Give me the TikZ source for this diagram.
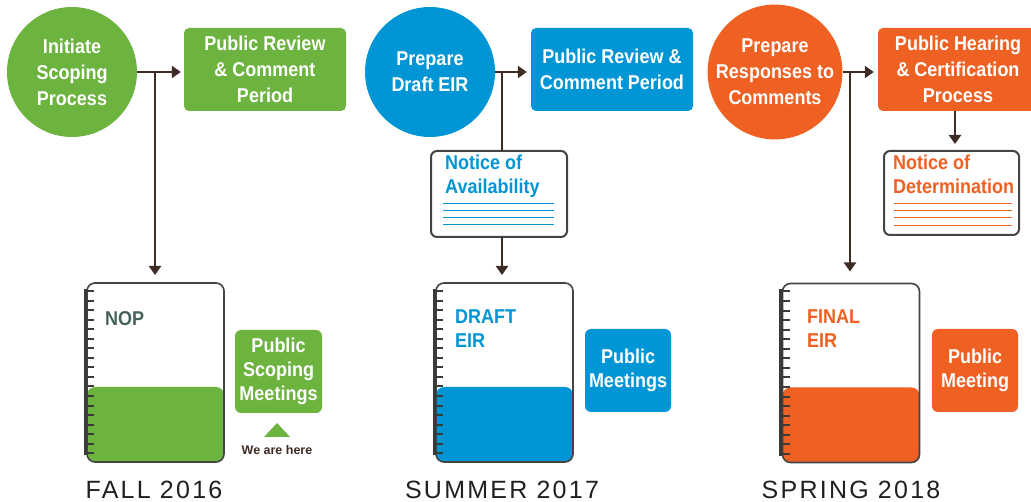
\documentclass[tikz,border=0pt]{standalone}
\usepackage{fontspec}
\setmainfont{Liberation Sans}
\newfontfamily\bn[FakeStretch=0.9]{Liberation Sans}
\newfontfamily\lbl[LetterSpace=9]{Liberation Sans}
\usetikzlibrary{arrows.meta,calc}
\definecolor{cg}{HTML}{6CB33F}
\definecolor{cb}{HTML}{0096D6}
\definecolor{co}{HTML}{EF6023}
\definecolor{brn}{HTML}{3D2B24}
\definecolor{edgegray}{HTML}{444444}
\definecolor{spiralc}{HTML}{3A3A3A}
\definecolor{nopc}{HTML}{45625C}
\definecolor{lbltext}{HTML}{231F20}
\tikzset{
  link/.style={draw=brn, line width=2.2pt},
  tip/.style={-{Triangle[length=9pt,width=12pt]}},
  bigfont/.style={font=\bn\bfseries\fontsize{20}{26}\selectfont},
  circ/.style={circle, fill=#1, minimum size=130pt, inner sep=0pt, text=white, align=center, bigfont},
  pbox/.style={rounded corners=5pt, fill=#1, inner sep=0pt, text=white, align=center, bigfont},
  mbox/.style={rounded corners=6pt, fill=#1, inner sep=0pt, text=white, align=center,
    minimum width=86pt, minimum height=83pt, font=\bn\bfseries\fontsize{20}{24}\selectfont},
  nbook/.style={draw=edgegray, line width=1.6pt, rounded corners=8pt, fill=white, outer sep=0pt,
    minimum width=137pt, minimum height=179pt, inner sep=0pt,
    path picture={\fill[#1] (path picture bounding box.south west) rectangle ([yshift=75pt]path picture bounding box.south east);}},
  notice/.style={draw=edgegray, line width=2pt, rounded corners=6pt, fill=white, inner sep=0pt, outer sep=0pt},
  doctext/.style={anchor=north west, inner sep=0pt, align=left, text=#1, font=\bn\bfseries\fontsize{20}{24}\selectfont},
  season/.style={anchor=base, inner sep=0pt, text=lbltext, font=\lbl\fontsize{25}{30}\selectfont},
  spiralbar/.style={draw=spiralc, line width=3.2pt},
  spiraltick/.style={draw=spiralc, line width=2pt},
}
\newcommand\spiralfor[1]{%
  \draw[spiralbar] ($(#1.north west)+(-1.5,6)$) -- ($(#1.south west)+(-1.5,-7)$);
  \foreach \k in {0,...,17}{\draw[spiraltick] ($(#1.north west)+(-2.5,8+9.55*\k)$) -- ++(9.5,0);}
}
\begin{document}
\begin{tikzpicture}[x=1pt,y=-1pt]
\useasboundingbox (0,0) rectangle (1031,502);
\clip (0,0) rectangle (1031,502);

% ---------- FALL 2016 ----------
\node[circ=cg] (c1) at (72,72) {Initiate\\Scoping\\Process};
\node[pbox=cg, minimum width=162pt, minimum height=83pt] (r1) at (265,69.5) {Public Review\\\& Comment\\Period};
\node[nbook=cg] (b1) at (155.5,372.5) {};
\spiralfor{b1}
\node[doctext=nopc] (t1) at (105,311) {NOP};
\node[mbox=cg, minimum width=87pt] (m1) at (278.5,371.5) {Public\\Scoping\\Meetings};
\fill[cg] (264,437) -- (290,437) -- (277,423) -- cycle;
\node[inner sep=0pt, text=brn, font=\bfseries\fontsize{12.5}{14}\selectfont] (here) at (277,450) {We are here};
\node[season] (s1) at (154,498) {FALL 2016};
\coordinate (j1) at (155,72);
\draw[link,tip,shorten >=3pt] (c1.east) -- (c1.east -| r1.west);
\draw[link,tip,shorten >=8pt] (j1) -- (j1 |- b1.north);

% ---------- SUMMER 2017 ----------
\node[circ=cb] (c2) at (430,72) {Prepare\\Draft EIR};
\node[pbox=cb, minimum width=162pt, minimum height=83pt] (r2) at (612,69.5) {Public Review \&\\Comment Period};
\node[notice, minimum width=136pt, minimum height=86pt] (n2) at (499,194) {};
\node[doctext=cb] (nt2) at (445,155) {Notice of\\Availability};
\foreach \yy in {204,211,218,225}{\draw[cb, line width=1pt] (443,\yy) -- (554,\yy);}
\node[nbook=cb] (b2) at (504.5,372.5) {};
\spiralfor{b2}
\node[doctext=cb] (t2) at (455,310) {DRAFT\\EIR};
\node[mbox=cb] (m2) at (628,370.5) {Public\\Meetings};
\node[season] (s2) at (502,498) {SUMMER 2017};
\coordinate (j2) at (502,72);
\draw[link,tip,shorten >=4pt] (c2.east) -- (c2.east -| r2.west);
\draw[link] (j2) -- (j2 |- n2.north);
\draw[link,tip,shorten >=8pt] (j2 |- n2.south) -- (j2 |- b2.north);

% ---------- SPRING 2018 ----------
\node[circ=co] (c3) at (775,72) {Prepare\\Responses to\\Comments};
\node[pbox=co, minimum width=160pt, minimum height=83pt] (r3) at (958,69.5) {Public Hearing\\\& Certification\\Process};
\node[notice, minimum width=135pt, minimum height=84pt] (n3) at (951.5,193) {};
\node[doctext=co] (nt3) at (893,155) {Notice of\\Determination};
\foreach \yy in {204,211,218,226}{\draw[co, line width=1pt] (894,\yy) -- (1012,\yy);}
\node[nbook=co] (b3) at (851,373) {};
\spiralfor{b3}
\node[doctext=co] (t3) at (807,310) {FINAL\\EIR};
\node[mbox=co] (m3) at (975,370.5) {Public\\Meeting};
\node[season] (s3) at (851,498) {SPRING 2018};
\coordinate (j3) at (850,72);
\coordinate (k3) at ([xshift=-3pt]r3.south);
\draw[link,tip,shorten >=4pt] (c3.east) -- (c3.east -| r3.west);
\draw[link,tip,shorten >=12pt] (j3) -- (j3 |- b3.north);
\draw[link,tip,shorten >=7pt] (k3) -- (k3 |- n3.north);
\end{tikzpicture}
\end{document}
